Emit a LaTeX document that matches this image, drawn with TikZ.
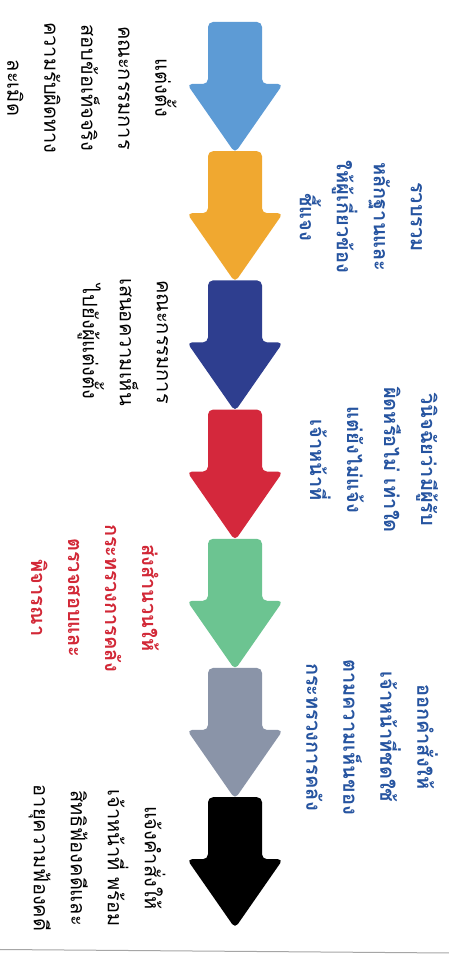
\documentclass[tikz,border=0pt]{standalone}
\usepackage{fontspec}
\newfontfamily\thaifont[Script=Thai]{Loma}
\definecolor{arrblue}{RGB}{93,155,213}
\definecolor{arrorange}{RGB}{240,168,48}
\definecolor{arrnavy}{RGB}{46,62,143}
\definecolor{arrred}{RGB}{212,40,60}
\definecolor{arrgreen}{RGB}{108,196,145}
\definecolor{arrgray}{RGB}{138,148,168}
\definecolor{textblue}{RGB}{38,84,160}
\definecolor{textred}{RGB}{210,40,55}
\tikzset{
  downarrow/.pic={
    \fill[pic actions,rounded corners=5pt] (-27,0) -- (27,0) -- (27,-62) -- (48,-62)
      -- (0,-131) -- (-48,-62) -- (-27,-62) -- cycle;
  },
  note/.style={rotate=-90, align=center, inner sep=0pt,
    font=\thaifont\fontsize{20}{37}\selectfont},
  blacknote/.style={note, text=black},
  bluenote/.style={note, text=textblue, font=\thaifont\bfseries\fontsize{20}{37}\selectfont},
  rednote/.style={note, text=textred, font=\thaifont\bfseries\fontsize{20}{37}\selectfont}
}
\begin{document}
\begin{tikzpicture}[x=1pt,y=1pt]
\useasboundingbox (0,0) rectangle (449,959);
\fill[white] (0,0) rectangle (449,959);
\draw[gray!70, line width=1pt] (0,9.5) -- (449,6);
\foreach \c [count=\i from 0] in {arrblue,arrorange,arrnavy,arrred,arrgreen,arrgray,black}
  \pic[fill=\c] at (235,{937-129.2*\i}) {downarrow};
\node[blacknote] (appoint) at (92,871) {แต่งตั้ง\\คณะกรรมการ\\สอบข้อเท็จจริง\\ความรับผิดทาง\\ละเมิด};
\node[bluenote] (collect) at (361,742) {รวบรวม\\หลักฐานและ\\ให้ผู้เกี่ยวข้อง\\ชี้แจง};
\node[blacknote] (opinion) at (123,617) {คณะกรรมการ\\เสนอความเห็น\\ไปยังผู้แต่งตั้ง};
\node[bluenote] (decide) at (374,499) {วินิจฉัยว่ามีผู้รับ\\ผิดหรือไม่ เท่าใด\\แต่ยังไม่แจ้ง\\เจ้าหน้าที่};
\node[rednote] (send) at (95,361) {ส่งสำนวนให้\\กระทรวงการคลัง\\ตรวจสอบและ\\พิจารณา};
\node[bluenote] (order) at (372,222) {ออกคำสั่งให้\\เจ้าหน้าที่ชดใช้\\ตามความเห็นของ\\กระทรวงการคลัง};
\node[blacknote] (notify) at (97,101) {แจ้งคำสั่งให้\\เจ้าหน้าที่ พร้อม\\สิทธิฟ้องคดีและ\\อายุความฟ้องคดี};
\end{tikzpicture}
\end{document}
